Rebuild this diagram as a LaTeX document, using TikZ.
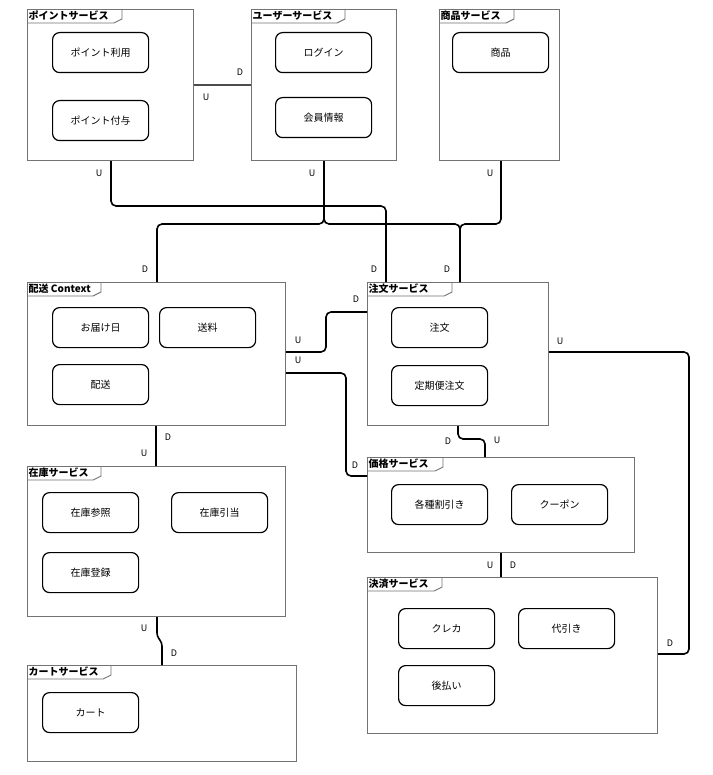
\documentclass[tikz,border=0pt]{standalone}
\usepackage{fontspec}
\setmainfont{Noto Sans CJK JP}
\begin{document}
\begin{tikzpicture}[x=1pt,y=-1pt,
  framebox/.style={draw=black!55,line width=1.1pt,fill=white,inner sep=0pt,anchor=north west},
  ctx/.style={draw=black,line width=1.2pt,rounded corners=7pt,minimum width=96pt,minimum height=40pt,inner sep=0pt,anchor=north west,font=\fontsize{10}{12}\selectfont},
  flabel/.style={anchor=north west,inner sep=1.5pt,font=\fontsize{10}{12}\selectfont\bfseries},
  tab/.style={draw=black!55,line width=0.9pt},
  conn/.style={draw=black,line width=1.6pt,rounded corners=5pt},
  ud/.style={font=\fontsize{9}{10}\selectfont,inner sep=0pt}]
\useasboundingbox (0,0) rectangle (712,775);
% frames
\node[framebox,minimum width=166pt,minimum height=151pt] (pt) at (27,9) {};
\node[framebox,minimum width=145pt,minimum height=151pt] (usr) at (251,9) {};
\node[framebox,minimum width=120pt,minimum height=151pt] (prd) at (439,9) {};
\node[framebox,minimum width=258pt,minimum height=143pt] (del) at (27,282) {};
\node[framebox,minimum width=181pt,minimum height=143pt] (ord) at (367,282) {};
\node[framebox,minimum width=267pt,minimum height=95pt] (prc) at (367,457) {};
\node[framebox,minimum width=290pt,minimum height=156pt] (pay) at (367,577) {};
\node[framebox,minimum width=258pt,minimum height=150pt] (inv) at (27,466) {};
\node[framebox,minimum width=269pt,minimum height=96pt] (crt) at (27,665) {};
% frame labels and tabs
\node[flabel] (ptl) at (pt.north west) {ポイントサービス};
\draw[tab] (pt.north west) ++(0,14) -- ++(87,0) -- ++(8,-4) -- ++(0,-10);
\node[flabel] (usrl) at (usr.north west) {ユーザーサービス};
\draw[tab] (usr.north west) ++(0,14) -- ++(86,0) -- ++(8,-4) -- ++(0,-10);
\node[flabel] (prdl) at (prd.north west) {商品サービス};
\draw[tab] (prd.north west) ++(0,14) -- ++(67,0) -- ++(8,-4) -- ++(0,-10);
\node[flabel] (dell) at (del.north west) {配送 Context};
\draw[tab] (del.north west) ++(0,14) -- ++(66,0) -- ++(8,-4) -- ++(0,-10);
\node[flabel] (ordl) at (ord.north west) {注文サービス};
\draw[tab] (ord.north west) ++(0,14) -- ++(77,0) -- ++(8,-4) -- ++(0,-10);
\node[flabel] (prcl) at (prc.north west) {価格サービス};
\draw[tab] (prc.north west) ++(0,14) -- ++(68,0) -- ++(8,-4) -- ++(0,-10);
\node[flabel] (payl) at (pay.north west) {決済サービス};
\draw[tab] (pay.north west) ++(0,14) -- ++(67,0) -- ++(8,-4) -- ++(0,-10);
\node[flabel] (invl) at (inv.north west) {在庫サービス};
\draw[tab] (inv.north west) ++(0,14) -- ++(66,0) -- ++(8,-4) -- ++(0,-10);
\node[flabel] (crtl) at (crt.north west) {カートサービス};
\draw[tab] (crt.north west) ++(0,14) -- ++(76,0) -- ++(8,-4) -- ++(0,-10);
% contexts
\node[ctx] (c1) at (52,32) {ポイント利用};
\node[ctx] (c2) at (52,100) {ポイント付与};
\node[ctx] (c3) at (275,32) {ログイン};
\node[ctx] (c4) at (275,97) {会員情報};
\node[ctx] (c5) at (452,32) {商品};
\node[ctx] (c6) at (52,307) {お届け日};
\node[ctx] (c7) at (159,307) {送料};
\node[ctx] (c8) at (52,364) {配送};
\node[ctx] (c9) at (391,307) {注文};
\node[ctx] (c10) at (391,365) {定期便注文};
\node[ctx] (c11) at (391,484) {各種割引き};
\node[ctx] (c12) at (511,484) {クーポン};
\node[ctx] (c13) at (398,608) {クレカ};
\node[ctx] (c14) at (518,608) {代引き};
\node[ctx] (c15) at (398,665) {後払い};
\node[ctx] (c16) at (42,492) {在庫参照};
\node[ctx] (c17) at (171,492) {在庫引当};
\node[ctx] (c18) at (42,552) {在庫登録};
\node[ctx] (c19) at (42,692) {カート};
% connectors
\draw[draw=black!70,line width=2.2pt] (pt.east |- 0,85) -- (usr.west |- 0,85);
\draw[conn] (pt.south -| 111,0) |- (386,206) -- (ord.north -| 386,0);
\draw[conn] (usr.south -| 324,0) |- (157,224) -- (del.north -| 157,0);
\draw[conn] (usr.south -| 324,0) |- (460,224) -- (ord.north -| 460,0);
\draw[conn] (prd.south -| 501,0) |- (460,224) -- (ord.north -| 460,0);
\draw[conn] (del.east |- 0,352) -| (326,312) -- (ord.west |- 0,312);
\draw[conn] (del.east |- 0,373) -| (346,476) -- (prc.west |- 0,476);
\draw[conn] (ord.east |- 0,352) -| (689,654) -- (pay.east |- 0,654);
\draw[conn] (ord.south -| 458,0) -- (458,439) -| (prc.north -| 485,0);
\draw[conn] (prc.south -| 501,0) -- (pay.north -| 501,0);
\draw[conn] (del.south -| 156,0) -- (inv.north -| 156,0);
\draw[conn,rounded corners=3pt] (inv.south -| 157,0) -- (157,636) -- (162,643) -- (crt.north -| 162,0);
% U / D labels
\node[ud] (l1) at (240,72) {D};
\node[ud] (l2) at (206,97) {U};
\node[ud] (l3) at (99,173) {U};
\node[ud] (l4) at (312,173) {U};
\node[ud] (l5) at (490,173) {U};
\node[ud] (l6) at (145,269) {D};
\node[ud] (l7) at (374,269) {D};
\node[ud] (l8) at (447,269) {D};
\node[ud] (l9) at (356,299) {D};
\node[ud] (l10) at (298,340) {U};
\node[ud] (l11) at (298,360) {U};
\node[ud] (l12) at (560,341) {U};
\node[ud] (l13) at (448,441) {D};
\node[ud] (l14) at (497,440) {U};
\node[ud] (l15) at (355,465) {D};
\node[ud] (l16) at (168,437) {D};
\node[ud] (l17) at (144,453) {U};
\node[ud] (l18) at (490,565) {U};
\node[ud] (l19) at (513,565) {D};
\node[ud] (l20) at (670,643) {D};
\node[ud] (l21) at (144,628) {U};
\node[ud] (l22) at (174,653) {D};
\end{tikzpicture}
\end{document}
